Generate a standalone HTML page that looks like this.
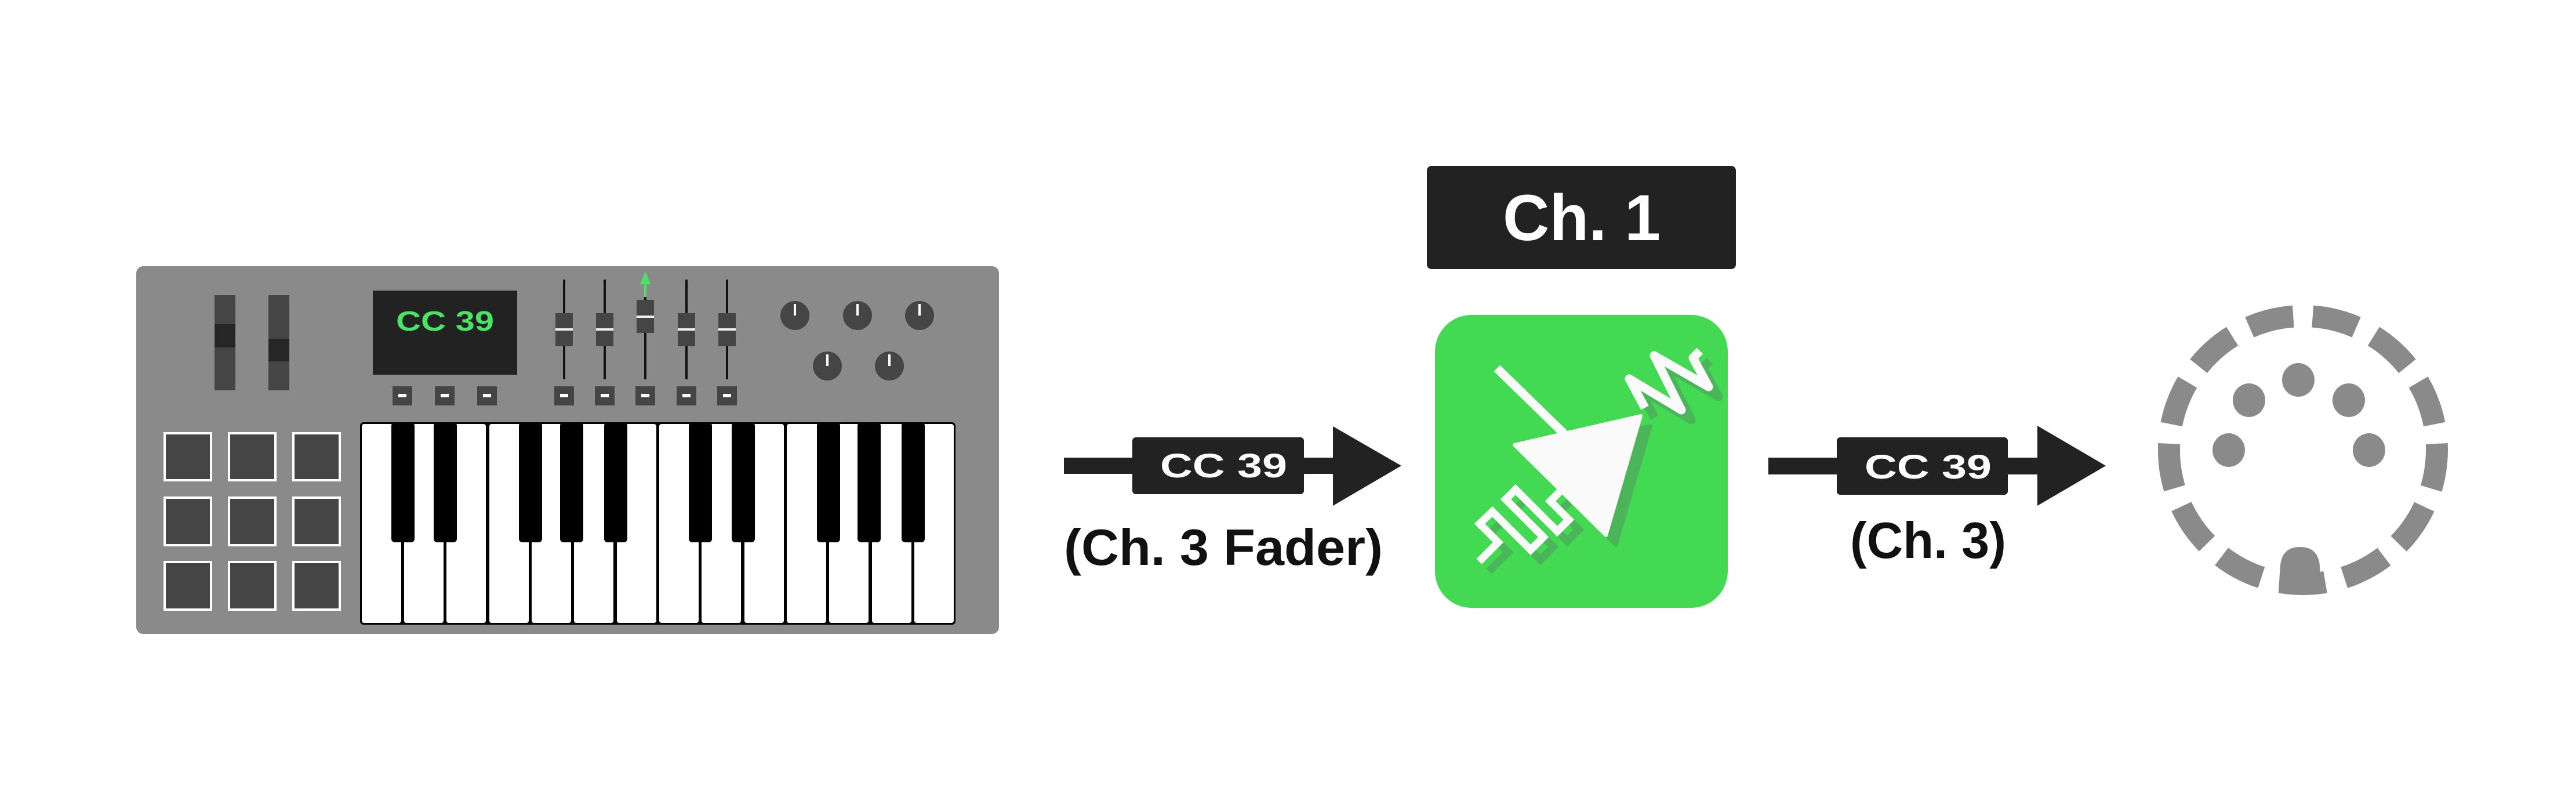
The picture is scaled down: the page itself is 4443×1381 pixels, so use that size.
<!DOCTYPE html>
<html><head><meta charset="utf-8"><style>
html,body{margin:0;padding:0;background:#fff;}
svg{display:block;}
text{font-family:"Liberation Sans","DejaVu Sans",sans-serif;font-weight:bold;}
</style></head><body>
<svg width="4443" height="1381" viewBox="0 0 4443 1381" xmlns="http://www.w3.org/2000/svg">
<rect width="4443" height="1381" fill="#fff"/>
<!-- keyboard -->
<rect x="235" y="459" width="1488" height="634" rx="12" fill="#8a8a8a"/>
<rect x="370" y="509" width="36" height="164" fill="#454545"/>
<rect x="370" y="559" width="36" height="40" fill="#262626"/>
<rect x="463" y="509" width="36" height="164" fill="#454545"/>
<rect x="463" y="584" width="36" height="39" fill="#262626"/>
<rect x="643" y="501" width="249" height="145" fill="#222"/>
<text x="683" y="570" font-size="48" fill="#4be366" textLength="169" lengthAdjust="spacingAndGlyphs">CC 39</text>
<g fill="#111">
<rect x="971" y="482" width="4" height="172"/><rect x="1041" y="482" width="4" height="172"/>
<rect x="1111" y="505" width="4" height="149"/><rect x="1182" y="482" width="4" height="172"/><rect x="1252" y="482" width="4" height="172"/>
</g>
<polygon points="1113,468 1104,490 1111,490 1111,512 1115,512 1115,490 1122,490" fill="#4be366"/>
<g fill="#454545">
<rect x="958" y="540" width="30" height="57"/><rect x="1028" y="540" width="30" height="57"/>
<rect x="1098" y="517" width="30" height="57"/><rect x="1169" y="540" width="30" height="57"/><rect x="1239" y="540" width="30" height="57"/>
</g>
<g fill="#eee">
<rect x="958" y="566" width="30" height="4"/><rect x="1028" y="566" width="30" height="4"/>
<rect x="1098" y="544" width="30" height="4"/><rect x="1169" y="566" width="30" height="4"/><rect x="1239" y="566" width="30" height="4"/>
</g>
<g fill="#454545">
<rect x="677" y="666" width="34" height="33"/><rect x="750" y="666" width="34" height="33"/><rect x="823" y="666" width="34" height="33"/>
<rect x="956" y="666" width="34" height="33"/><rect x="1026" y="666" width="34" height="33"/><rect x="1096" y="666" width="34" height="33"/><rect x="1167" y="666" width="34" height="33"/><rect x="1237" y="666" width="34" height="33"/>
</g>
<g fill="#fff">
<rect x="687" y="679" width="14" height="6"/><rect x="760" y="679" width="14" height="6"/><rect x="833" y="679" width="14" height="6"/>
<rect x="966" y="679" width="14" height="6"/><rect x="1036" y="679" width="14" height="6"/><rect x="1106" y="679" width="14" height="6"/><rect x="1177" y="679" width="14" height="6"/><rect x="1247" y="679" width="14" height="6"/>
</g>
<g fill="#454545">
<circle cx="1371" cy="544" r="25"/><circle cx="1479" cy="544" r="25"/><circle cx="1586" cy="544" r="25"/>
<circle cx="1427" cy="631" r="25"/><circle cx="1534" cy="631" r="25"/>
</g>
<g fill="#fff">
<rect x="1369" y="524" width="4" height="20"/><rect x="1477" y="524" width="4" height="20"/><rect x="1584" y="524" width="4" height="20"/>
<rect x="1425" y="611" width="4" height="20"/><rect x="1532" y="611" width="4" height="20"/>
</g>
<g fill="#454545" stroke="#fff" stroke-width="4">
<rect x="284" y="747" width="80" height="81"/><rect x="395" y="747" width="80" height="81"/><rect x="506" y="747" width="80" height="81"/>
<rect x="284" y="858" width="80" height="82"/><rect x="395" y="858" width="80" height="82"/><rect x="506" y="858" width="80" height="82"/>
<rect x="284" y="969" width="80" height="82"/><rect x="395" y="969" width="80" height="82"/><rect x="506" y="969" width="80" height="82"/>
</g>
<rect x="621" y="728" width="1027" height="349" rx="6" fill="#000"/>
<g fill="#fff" id="wk"></g>
<g fill="#fff">
<rect x="624" y="731" width="68" height="343" rx="4"/><rect x="697" y="731" width="68" height="343" rx="4"/><rect x="770" y="731" width="68" height="343" rx="4"/>
<rect x="844" y="731" width="68" height="343" rx="4"/><rect x="917" y="731" width="68" height="343" rx="4"/><rect x="990" y="731" width="68" height="343" rx="4"/>
<rect x="1064" y="731" width="68" height="343" rx="4"/><rect x="1137" y="731" width="68" height="343" rx="4"/><rect x="1210" y="731" width="68" height="343" rx="4"/>
<rect x="1284" y="731" width="68" height="343" rx="4"/><rect x="1357" y="731" width="68" height="343" rx="4"/><rect x="1430" y="731" width="68" height="343" rx="4"/>
<rect x="1504" y="731" width="68" height="343" rx="4"/><rect x="1577" y="731" width="68" height="343" rx="4"/>
</g>
<g fill="#000">
<rect x="675" y="728" width="40" height="207" rx="6"/><rect x="748" y="728" width="40" height="207" rx="6"/>
<rect x="895" y="728" width="40" height="207" rx="6"/><rect x="966" y="728" width="40" height="207" rx="6"/><rect x="1042" y="728" width="40" height="207" rx="6"/>
<rect x="1188" y="728" width="40" height="207" rx="6"/><rect x="1262" y="728" width="40" height="207" rx="6"/>
<rect x="1409" y="728" width="40" height="207" rx="6"/><rect x="1479" y="728" width="40" height="207" rx="6"/><rect x="1555" y="728" width="40" height="207" rx="6"/>
</g>
<!-- arrow 1 -->
<rect x="1835" y="789" width="470" height="28" fill="#222"/>
<rect x="1953" y="754" width="296" height="98" rx="6" fill="#222"/>
<polygon points="2299,735 2417,803 2299,872" fill="#222"/>
<text x="2001" y="823" font-size="58" fill="#fff" textLength="219" lengthAdjust="spacingAndGlyphs">CC 39</text>
<text x="1835" y="974" font-size="88" fill="#111" textLength="550" lengthAdjust="spacingAndGlyphs">(Ch. 3 Fader)</text>
<!-- Ch.1 -->
<rect x="2461" y="286" width="533" height="178" rx="8" fill="#222"/>
<text x="2592" y="414" font-size="112" fill="#fff" textLength="272" lengthAdjust="spacingAndGlyphs">Ch. 1</text>
<!-- green icon -->
<rect x="2475" y="543" width="505" height="505" rx="63" fill="#43d952"/>
<g transform="translate(17,17)" fill="#4bb55a" stroke="#4bb55a" stroke-linejoin="round">
<polygon points="2612,767 2830,717 2770,923" stroke-width="6"/>
<polyline fill="none" stroke-width="15" points="2837,703 2810,653 2900,707 2853,613 2947,667 2920,617 2932,605"/>
<polyline fill="none" stroke-width="13" stroke-linejoin="miter" points="2690,848 2674,864 2706,896 2686,916 2614,844 2597,861 2662,926 2640,948 2574,882 2552,903 2584,935 2551,968"/>
</g>
<g fill="#fafafa" stroke="#fafafa" stroke-linejoin="round">
<line x1="2582" y1="635" x2="2700" y2="750" stroke-width="15"/>
<polygon points="2612,767 2830,717 2770,923" stroke-width="6"/>
<polyline fill="none" stroke-width="15" points="2837,703 2810,653 2900,707 2853,613 2947,667 2920,617 2932,605"/>
<polyline fill="none" stroke-width="13" stroke-linejoin="miter" points="2690,848 2674,864 2706,896 2686,916 2614,844 2597,861 2662,926 2640,948 2574,882 2552,903 2584,935 2551,968"/>
</g>
<!-- arrow 2 -->
<rect x="3050" y="789" width="470" height="29" fill="#222"/>
<rect x="3168" y="754" width="295" height="99" rx="6" fill="#222"/>
<polygon points="3514,734 3632,803 3514,872" fill="#222"/>
<text x="3216" y="825" font-size="58" fill="#fff" textLength="219" lengthAdjust="spacingAndGlyphs">CC 39</text>
<text x="3191" y="962" font-size="88" fill="#111" textLength="269" lengthAdjust="spacingAndGlyphs">(Ch. 3)</text>
<!-- DIN -->
<circle cx="3972" cy="776" r="231" fill="none" stroke="#8a8a8a" stroke-width="38" stroke-dasharray="78 33.6" stroke-dashoffset="10.8"/>
<path d="M3930,1018 L3933,975 Q3936,943 3967,943 Q3998,943 4001,975 L4004,1018 Z" fill="#8a8a8a"/>
<g fill="#8a8a8a">
<ellipse cx="3964" cy="655" rx="28" ry="29"/><ellipse cx="3879" cy="690" rx="28" ry="29"/><ellipse cx="4051" cy="690" rx="28" ry="29"/>
<ellipse cx="3844" cy="776" rx="28" ry="29"/><ellipse cx="4086" cy="776" rx="28" ry="29"/>
</g>
</svg>
</body></html>
